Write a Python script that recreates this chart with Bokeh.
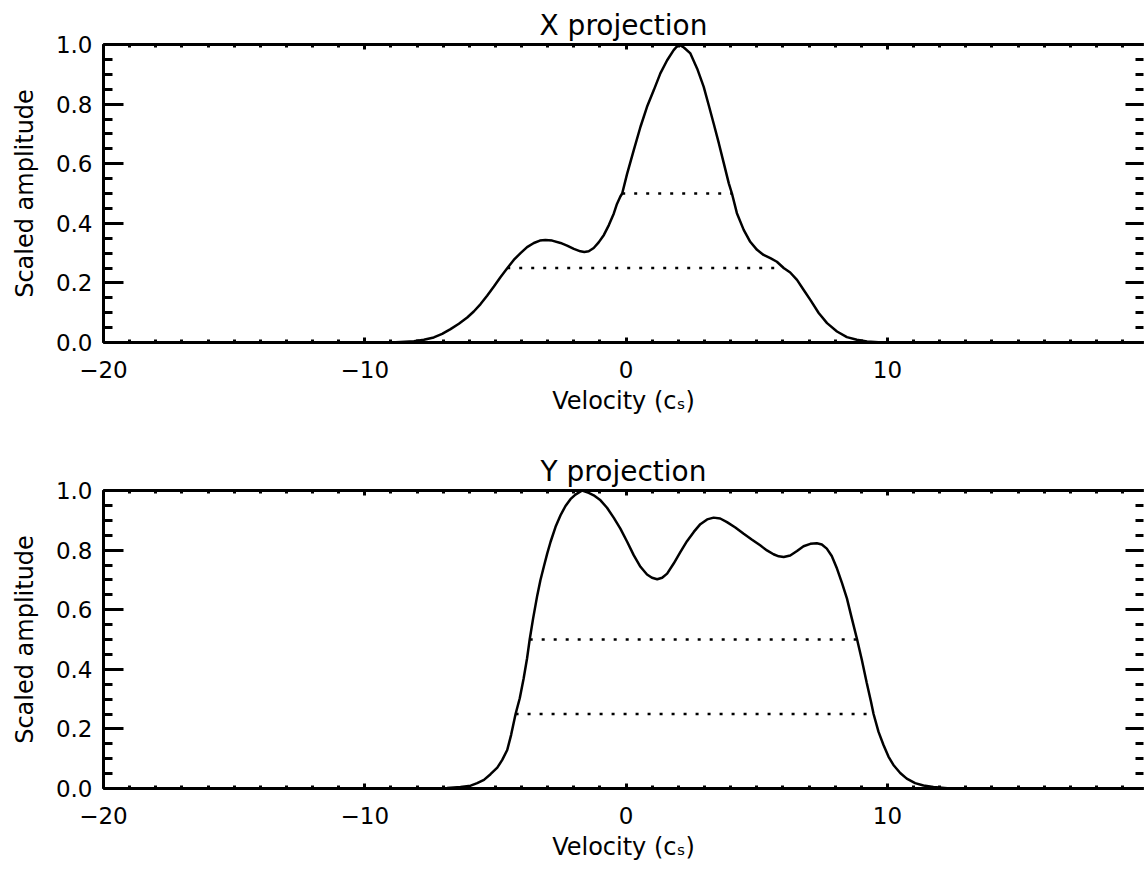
from bokeh.plotting import figure
from bokeh.models import Range1d, FixedTicker, PrintfTickFormatter, LinearAxis, CustomJSTickFormatter
from bokeh.layouts import column
from bokeh.embed import file_html
from bokeh.resources import INLINE

# X projection profile (velocity in c_s, scaled amplitude)
x_vel = [-20.0, -9.5, -9.01, -8.63, -8.12, -7.74, -7.36, -7.04, -6.72, -6.40, -6.08, -5.83,
         -5.57, -5.32, -5.06, -4.81, -4.55, -4.30, -4.04, -3.79, -3.53, -3.30, -3.09, -2.83,
         -2.51, -2.26, -2.00, -1.75, -1.60, -1.43, -1.24, -1.05, -0.85, -0.66, -0.47, -0.35,
         -0.22, -0.15, 0.035, 0.29, 0.55, 0.80, 1.06, 1.31, 1.57, 1.82, 2.01, 2.21, 2.46,
         2.72, 2.97, 3.16, 3.35, 3.55, 3.74, 3.93, 4.05, 4.24, 4.50, 4.75, 5.01, 5.26, 5.52,
         5.77, 6.03, 6.28, 6.54, 6.79, 7.05, 7.37, 7.69, 8.07, 8.45, 8.83, 9.22, 9.8, 20.0]
x_amp = [0.0, 0.0, 0.0, 0.002, 0.0045, 0.009, 0.017, 0.029, 0.045, 0.063, 0.084, 0.104,
         0.129, 0.157, 0.188, 0.219, 0.249, 0.277, 0.300, 0.320, 0.334, 0.342, 0.344, 0.342,
         0.334, 0.325, 0.314, 0.306, 0.304, 0.306, 0.317, 0.336, 0.361, 0.394, 0.433, 0.465,
         0.490, 0.500, 0.565, 0.645, 0.724, 0.791, 0.847, 0.903, 0.947, 0.981, 1.0, 0.990, 0.970,
         0.919, 0.858, 0.797, 0.735, 0.668, 0.601, 0.534, 0.500, 0.434, 0.378, 0.338, 0.311, 0.294, 0.283,
         0.271, 0.250, 0.235, 0.210, 0.177, 0.143, 0.099, 0.065, 0.037, 0.018, 0.009, 0.003, 0.0, 0.0]

# Y projection profile
y_vel = [-20.0, -7.2, -6.85, -6.34, -5.95, -5.70, -5.44, -5.19, -4.93, -4.74, -4.55, -4.40,
         -4.23, -4.07, -3.92, -3.79, -3.69, -3.56, -3.40, -3.28, -3.15, -3.02, -2.89, -2.70,
         -2.51, -2.32, -2.13, -1.94, -1.68, -1.43, -1.24, -0.98, -0.73, -0.47, -0.22, 0.04,
         0.29, 0.55, 0.80, 0.99, 1.19, 1.38, 1.57, 1.82, 2.08, 2.33, 2.59, 2.84, 3.10, 3.35,
         3.60, 3.86, 4.18, 4.50, 4.82, 5.13, 5.39, 5.64, 5.84, 6.03, 6.28, 6.54, 6.79, 7.05,
         7.30, 7.49, 7.68, 7.87, 8.07, 8.26, 8.45, 8.64, 8.84, 9.02, 9.21, 9.37, 9.47, 9.66,
         9.85, 10.04, 10.23, 10.49, 10.74, 11.06, 11.38, 11.76, 12.4, 20.0]
y_amp = [0.0, 0.0, 0.002, 0.005, 0.0095, 0.018, 0.029, 0.048, 0.070, 0.096, 0.129, 0.180,
         0.250, 0.303, 0.370, 0.437, 0.500, 0.570, 0.648, 0.699, 0.744, 0.788, 0.828, 0.878,
         0.917, 0.948, 0.971, 0.986, 1.0, 0.992, 0.984, 0.967, 0.942, 0.908, 0.872, 0.828,
         0.783, 0.744, 0.718, 0.707, 0.702, 0.707, 0.721, 0.755, 0.794, 0.830, 0.861, 0.887, 0.903, 0.909,
         0.906, 0.894, 0.876, 0.855, 0.835, 0.816, 0.799, 0.786, 0.779, 0.777, 0.782, 0.797, 0.813, 0.821,
         0.823, 0.819, 0.805, 0.780, 0.738, 0.690, 0.638, 0.570, 0.500, 0.432, 0.354, 0.292, 0.250, 0.190,
         0.146, 0.107, 0.079, 0.052, 0.033, 0.018, 0.010, 0.005, 0.0, 0.0]

# Width markers: level, left crossing, right crossing
x_levels = [0.5, 0.25]
x_left = [-0.15, -4.55]
x_right = [4.05, 6.03]
y_levels = [0.5, 0.25]
y_left = [-3.69, -4.23]
y_right = [8.84, 9.45]

X0, X1 = -20, 19.8
Y0, Y1 = 0.0, 1.0
x_major = [-20, -10, 0, 10]
x_minor = list(range(-20, 20))
y_major = [0.0, 0.2, 0.4, 0.6, 0.8, 1.0]
y_minor = [i * 0.05 for i in range(21)]
x_tick_text = {-20: "\u221220", -10: "\u221210", 0: "0", 10: "10"}

FONT = "DejaVu Sans"


def tick_style(ax, major_in, minor_in):
    ax.major_tick_in = major_in
    ax.minor_tick_in = minor_in
    ax.major_tick_out = 0
    ax.minor_tick_out = 0
    ax.major_tick_line_width = 3
    ax.minor_tick_line_width = 3
    ax.major_tick_line_color = "black"
    ax.minor_tick_line_color = "black"


def make_panel(title, vel, amp, levels, lo, hi, height, border_bottom):
    p = figure(width=1144, height=height, x_range=Range1d(X0, X1),
               y_range=Range1d(Y0, Y1), output_backend="svg", toolbar_location=None,
               min_border_left=103, min_border_right=1, min_border_top=44,
               min_border_bottom=border_bottom, title=title)
    p.outline_line_color = None
    p.grid.visible = False
    p.background_fill_color = "white"
    p.border_fill_color = "white"

    p.title.align = "center"
    p.title.text_font = FONT
    p.title.text_font_size = "28px"
    p.title.text_font_style = "normal"
    p.title.text_color = "black"
    p.title.standoff = 6

    xa = p.xaxis[0]
    xa.ticker = FixedTicker(ticks=x_major, minor_ticks=x_minor)
    xa.major_label_overrides = x_tick_text
    xa.axis_label = "Velocity (c\u209b)"
    ya = p.yaxis[0]
    ya.ticker = FixedTicker(ticks=y_major, minor_ticks=y_minor)
    ya.formatter = PrintfTickFormatter(format="%.1f")
    ya.axis_label = "Scaled amplitude"

    for ax in (xa, ya):
        ax.axis_line_width = 3
        ax.axis_line_color = "black"
        ax.major_label_text_font = FONT
        ax.major_label_text_font_size = "23px"
        ax.major_label_text_color = "black"
        ax.axis_label_text_font = FONT
        ax.axis_label_text_font_size = "24px"
        ax.axis_label_text_font_style = "normal"
        ax.axis_label_text_color = "black"
    tick_style(xa, 5, 3)
    tick_style(ya, 20, 9)
    xa.major_label_standoff = 18
    xa.axis_label_standoff = 6
    ya.major_label_standoff = 11
    ya.axis_label_standoff = 14

    # Mirrored unlabeled ticks on the top and right edges
    blank = CustomJSTickFormatter(code="return ''")
    top_axis = LinearAxis(ticker=FixedTicker(ticks=x_major, minor_ticks=x_minor),
                          formatter=blank, axis_line_width=3, axis_line_color="black",
                          major_label_standoff=0)
    right_axis = LinearAxis(ticker=FixedTicker(ticks=y_major, minor_ticks=y_minor),
                            formatter=blank, axis_line_color=None, major_label_standoff=0)
    tick_style(top_axis, 5, 3)
    tick_style(right_axis, 18, 8)
    p.add_layout(top_axis, "above")
    p.add_layout(right_axis, "right")

    p.line(vel, amp, line_color="black", line_width=2.5)
    p.segment(x0=lo, y0=levels, x1=hi, y1=levels, line_color="black",
              line_width=2.5, line_dash="3 9")
    return p


p1 = make_panel("X projection", x_vel, x_amp, x_levels, x_left, x_right, 446, 104)
p2 = make_panel("Y projection", y_vel, y_amp, y_levels, y_left, y_right, 423, 81)

layout = column(p1, p2, spacing=0)
open("out.html", "w").write(file_html(layout, INLINE))
